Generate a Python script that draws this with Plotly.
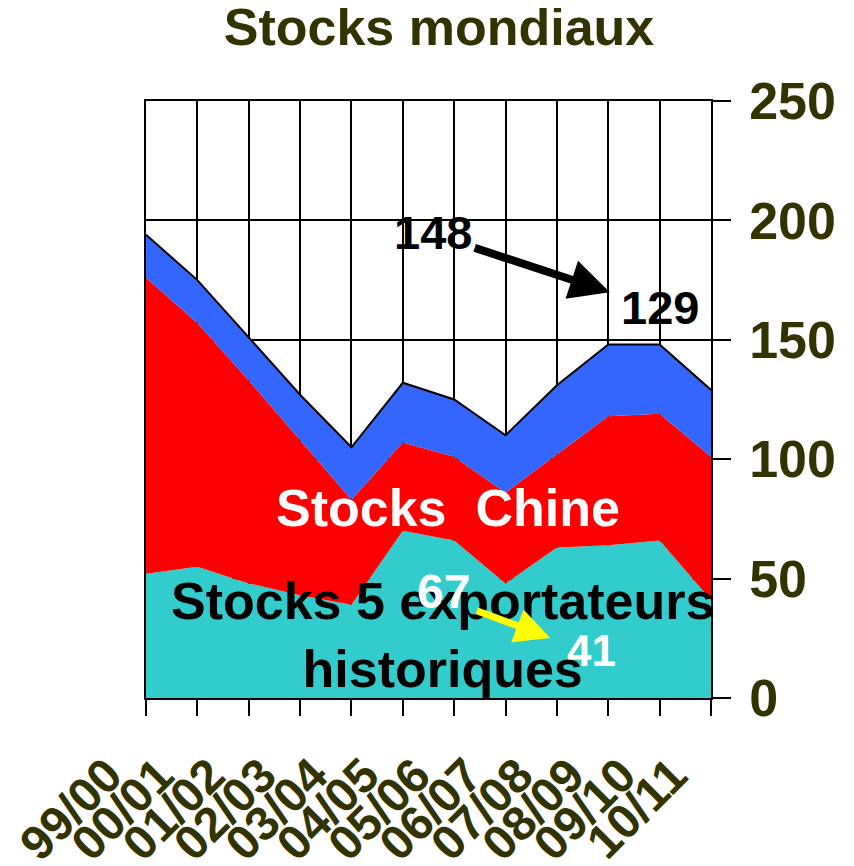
import plotly.graph_objects as go

categories = ["99/00", "00/01", "01/02", "02/03", "03/04", "04/05",
              "05/06", "06/07", "07/08", "08/09", "09/10", "10/11"]
exportateurs = [52, 55, 48, 43, 39, 70, 66, 48, 63, 64, 66, 41]
chine = [124, 102, 85, 65, 44, 37, 35, 38, 39, 54, 53, 60]
autres = [18, 18, 18, 19, 22, 25, 24, 24, 29, 30, 29, 28]
y_ticks = [0, 50, 100, 150, 200, 250]

OLIVE = "#333300"
FONT = "Liberation Sans, Arial, sans-serif"
W, H = 846, 858

fig = go.Figure()
fig.add_trace(go.Scatter(x=categories, y=exportateurs, stackgroup="s", mode="lines",
                         line=dict(width=0, color="#33CCCC"), fillcolor="#33CCCC"))
fig.add_trace(go.Scatter(x=categories, y=chine, stackgroup="s", mode="lines",
                         line=dict(width=0, color="#FF0000"), fillcolor="#FF0000"))
fig.add_trace(go.Scatter(x=categories, y=autres, stackgroup="s", mode="lines",
                         line=dict(width=2, color="black"), fillcolor="#3366FF"))

fig.update_layout(
    width=W, height=H,
    margin=dict(l=138, r=143, t=93, b=168, autoexpand=False),
    paper_bgcolor="white", plot_bgcolor="white",
    showlegend=False,
    title=dict(text="<b>Stocks mondiaux</b>", x=431 / W, xanchor="center",
               y=1 - 19 / H, yanchor="middle", yref="container", automargin=False,
               font=dict(family=FONT, size=52, color=OLIVE)),
    xaxis=dict(type="category", range=[0, 11], tickmode="array", tickvals=categories,
               showgrid=True, gridcolor="black", gridwidth=1.5,
               showline=True, linecolor="black", linewidth=1.5, mirror=True,
               ticks="outside", ticklen=16, tickwidth=1.5, tickcolor="black",
               tickangle=-45, tickfont=dict(family=FONT, size=48, color=OLIVE, weight="bold"),
               ticklabelstandoff=12, ticklabelshift=-38, automargin=False,
               zeroline=False),
    yaxis=dict(range=[0, 250], tickvals=y_ticks, side="right",
               showgrid=True, gridcolor="black", gridwidth=1.5,
               showline=True, linecolor="black", linewidth=1.5, mirror=True,
               ticks="outside", ticklen=18, tickwidth=1.5, tickcolor="black",
               tickfont=dict(family=FONT, size=52, color=OLIVE, weight="bold"),
               ticklabelstandoff=8, automargin=False,
               zeroline=False),
)

def label(text, x, y, size, color):
    fig.add_annotation(x=x, y=y, xref="x", yref="y", text="<b>%s</b>" % text, showarrow=False,
                       font=dict(family=FONT, size=size, color=color), xanchor="center", yanchor="middle")

label("148", 5.59, 195, 47, "black")
label("129", 10.0, 163.6, 47, "black")
label("Stocks  Chine", 5.88, 79.5, 52, "white")
label("Stocks 5 exportateurs<br>historiques", 5.78, 26.4, 52, "black")
label("67", 5.80, 44.4, 48, "white")
label("41", 8.68, 20, 44, "white")

fig.add_annotation(x=9.03, y=169.9, ax=6.37, ay=188.7, xref="x", yref="y", axref="x", ayref="y",
                   text="", showarrow=True, arrowhead=2, arrowsize=1, arrowwidth=8, arrowcolor="black")
fig.add_annotation(x=7.87, y=25.1, ax=6.41, ay=36.8, xref="x", yref="y", axref="x", ayref="y",
                   text="", showarrow=True, arrowhead=2, arrowsize=1, arrowwidth=7, arrowcolor="yellow")

fig.write_html("out.html")
